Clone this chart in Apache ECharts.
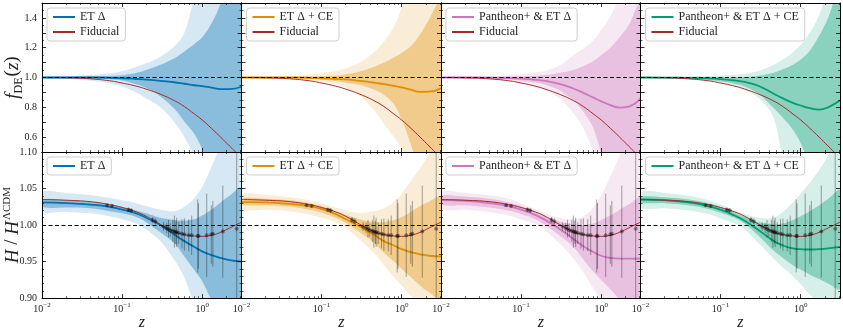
<!DOCTYPE html>
<html>
<head>
<meta charset="utf-8">
<script src="https://cdn.jsdelivr.net/npm/echarts@6/dist/echarts.min.js"></script>
<style>
  html, body { margin: 0; padding: 0; background: #fff; }
  #main { width: 843px; height: 332px; }
</style>
</head>
<body>
<div id="main"></div>
<script>
// redshift grid shared by every curve
const zGrid = [0.01, 0.02, 0.04, 0.07, 0.1, 0.15, 0.2, 0.3, 0.45, 0.6, 0.8, 1.0, 1.3, 1.7, 2.2, 3.1];

const panelNames = ['ET \u0394', 'ET \u0394 + CE', 'Pantheon+ & ET \u0394', 'Pantheon+ & ET \u0394 + CE'];
const panelColors = ['#0173b2', '#de8f05', '#cc78bc', '#029e73'];

// fiducial model
const fidFde = [1.0, 0.998, 0.991, 0.978, 0.963, 0.942, 0.922, 0.888, 0.845, 0.805, 0.755, 0.715, 0.66, 0.6, 0.54, 0.46];
const fidH = [1.035, 1.034, 1.032, 1.028, 1.024, 1.018, 1.012, 1.001, 0.991, 0.987, 0.985, 0.9845, 0.986, 0.99, 0.996, 1.004];

// f_DE(z): mean, 1 sigma (lo1/hi1), 2 sigma (lo2/hi2), one row per panel
const fdeMean = [
  [1, 1, 1, 0.998, 0.995, 0.99, 0.986, 0.978, 0.968, 0.958, 0.948, 0.942, 0.932, 0.922, 0.922, 0.938],
  [1, 1, 1, 0.998, 0.995, 0.99, 0.987, 0.978, 0.966, 0.955, 0.944, 0.933, 0.918, 0.904, 0.905, 0.927],
  [1, 1, 0.999, 0.996, 0.992, 0.985, 0.977, 0.958, 0.926, 0.897, 0.865, 0.84, 0.815, 0.798, 0.805, 0.86],
  [1, 0.999, 0.998, 0.994, 0.989, 0.98, 0.97, 0.943, 0.894, 0.86, 0.83, 0.812, 0.795, 0.785, 0.8, 0.845]
];
const fdeHi1 = [
  [1.003, 1.004, 1.006, 1.01, 1.015, 1.03, 1.05, 1.085, 1.13, 1.175, 1.225, 1.27, 1.36, 1.5, 1.75, 2.2],
  [1.002, 1.003, 1.004, 1.006, 1.009, 1.013, 1.02, 1.04, 1.07, 1.1, 1.135, 1.165, 1.21, 1.29, 1.39, 1.52],
  [1.002, 1.003, 1.004, 1.006, 1.008, 1.012, 1.016, 1.03, 1.05, 1.075, 1.11, 1.15, 1.2, 1.27, 1.35, 1.5],
  [1.001, 1.001, 1.002, 1.002, 1.002, 1.002, 1.003, 1.012, 1.03, 1.055, 1.085, 1.12, 1.18, 1.28, 1.4, 1.6]
];
const fdeLo1 = [
  [0.997, 0.996, 0.994, 0.988, 0.98, 0.955, 0.93, 0.875, 0.79, 0.705, 0.62, 0.52, 0.38, 0.2, 0.0, -0.3],
  [0.998, 0.997, 0.995, 0.99, 0.985, 0.975, 0.965, 0.95, 0.92, 0.885, 0.82, 0.72, 0.55, 0.35, 0.1, -0.3],
  [0.998, 0.996, 0.993, 0.986, 0.978, 0.966, 0.952, 0.915, 0.847, 0.77, 0.66, 0.49, 0.3, 0.05, -0.2, -0.6],
  [0.998, 0.996, 0.992, 0.983, 0.974, 0.958, 0.94, 0.89, 0.8, 0.73, 0.65, 0.56, 0.4, 0.2, 0, -0.3]
];
const fdeHi2 = [
  [1.005, 1.008, 1.015, 1.028, 1.042, 1.07, 1.095, 1.14, 1.21, 1.3, 1.55, 1.8, 2.2, 2.7, 3.2, 4],
  [1.004, 1.006, 1.01, 1.018, 1.028, 1.043, 1.06, 1.1, 1.17, 1.24, 1.34, 1.47, 1.7, 2.0, 2.4, 3],
  [1.003, 1.005, 1.009, 1.016, 1.023, 1.033, 1.045, 1.08, 1.15, 1.195, 1.25, 1.32, 1.41, 1.55, 1.8, 2.3],
  [1.002, 1.004, 1.007, 1.011, 1.014, 1.019, 1.026, 1.045, 1.082, 1.12, 1.17, 1.22, 1.3, 1.42, 1.6, 1.9]
];
const fdeLo2 = [
  [0.995, 0.99, 0.978, 0.962, 0.94, 0.9, 0.86, 0.8, 0.7, 0.6, 0.46, 0.3, 0.1, -0.2, -0.5, -1],
  [0.996, 0.994, 0.99, 0.982, 0.972, 0.955, 0.935, 0.88, 0.78, 0.69, 0.6, 0.52, 0.35, 0.1, -0.2, -0.7],
  [0.996, 0.993, 0.987, 0.975, 0.962, 0.94, 0.915, 0.86, 0.76, 0.66, 0.5, 0.35, 0.1, -0.2, -0.5, -1],
  [0.996, 0.993, 0.988, 0.976, 0.964, 0.944, 0.92, 0.86, 0.74, 0.46, 0.25, 0.05, -0.2, -0.5, -0.8, -1.2]
];

// H / H_LCDM: same layout
const hMean = [
  [1.031, 1.030, 1.028, 1.025, 1.021, 1.016, 1.010, 1.0, 0.987, 0.978, 0.97, 0.964, 0.959, 0.955, 0.952, 0.95],
  [1.0315, 1.031, 1.029, 1.026, 1.022, 1.015, 1.008, 0.998, 0.987, 0.978, 0.972, 0.967, 0.963, 0.96, 0.958, 0.957],
  [1.034, 1.033, 1.03, 1.026, 1.021, 1.014, 1.007, 0.995, 0.981, 0.971, 0.963, 0.958, 0.955, 0.954, 0.954, 0.954],
  [1.035, 1.034, 1.031, 1.026, 1.021, 1.013, 1.006, 0.993, 0.979, 0.972, 0.968, 0.967, 0.9665, 0.967, 0.968, 0.97]
];
const hHi1 = [
  [1.035, 1.034, 1.032, 1.028, 1.025, 1.02, 1.016, 1.01, 1.007, 1.006, 1.008, 1.013, 1.021, 1.031, 1.04, 1.05],
  [1.037, 1.036, 1.034, 1.03, 1.026, 1.019, 1.014, 1.008, 1.004, 1.004, 1.007, 1.011, 1.018, 1.026, 1.032, 1.038],
  [1.04, 1.039, 1.036, 1.031, 1.026, 1.018, 1.012, 1.005, 1.001, 1.0, 1.002, 1.007, 1.013, 1.021, 1.028, 1.037],
  [1.039, 1.038, 1.035, 1.03, 1.025, 1.017, 1.011, 1.004, 1.001, 1.002, 1.007, 1.012, 1.019, 1.027, 1.036, 1.047]
];
const hLo1 = [
  [1.025, 1.024, 1.023, 1.019, 1.016, 1.011, 1.004, 0.99, 0.975, 0.957, 0.938, 0.923, 0.898, 0.875, 0.85, 0.82],
  [1.028, 1.027, 1.025, 1.021, 1.017, 1.01, 1.003, 0.99, 0.976, 0.962, 0.95, 0.94, 0.929, 0.917, 0.908, 0.898],
  [1.028, 1.027, 1.024, 1.02, 1.015, 1.008, 1.0, 0.986, 0.97, 0.953, 0.936, 0.925, 0.912, 0.898, 0.885, 0.87],
  [1.031, 1.03, 1.027, 1.022, 1.017, 1.01, 1.002, 0.985, 0.966, 0.955, 0.945, 0.939, 0.932, 0.926, 0.92, 0.913]
];
const hHi2 = [
  [1.045, 1.044, 1.041, 1.037, 1.034, 1.03, 1.026, 1.021, 1.019, 1.025, 1.037, 1.052, 1.079, 1.11, 1.14, 1.18],
  [1.042, 1.041, 1.038, 1.034, 1.03, 1.024, 1.02, 1.017, 1.019, 1.023, 1.032, 1.043, 1.06, 1.078, 1.097, 1.12],
  [1.045, 1.044, 1.041, 1.036, 1.03, 1.022, 1.016, 1.01, 1.008, 1.012, 1.024, 1.04, 1.066, 1.095, 1.125, 1.16],
  [1.045, 1.044, 1.04, 1.034, 1.028, 1.02, 1.015, 1.01, 1.01, 1.018, 1.031, 1.043, 1.058, 1.075, 1.095, 1.12]
];
const hLo2 = [
  [1.019, 1.018, 1.016, 1.012, 1.008, 1.002, 0.994, 0.978, 0.952, 0.928, 0.89, 0.86, 0.82, 0.78, 0.74, 0.7],
  [1.022, 1.021, 1.019, 1.014, 1.01, 1.004, 0.996, 0.98, 0.962, 0.945, 0.929, 0.917, 0.903, 0.89, 0.877, 0.862],
  [1.0225, 1.021, 1.018, 1.013, 1.008, 1.001, 0.993, 0.975, 0.954, 0.935, 0.913, 0.897, 0.878, 0.86, 0.84, 0.82],
  [1.024, 1.023, 1.02, 1.015, 1.009, 1.002, 0.994, 0.975, 0.955, 0.942, 0.93, 0.919, 0.905, 0.893, 0.882, 0.87]
];

// measurements shown in the lower row
const dataZ = [0.065, 0.075, 0.12, 0.13, 0.24, 0.26, 0.33, 0.36, 0.38, 0.40, 0.43, 0.45, 0.47, 0.48, 0.51, 0.56, 0.60, 0.68, 0.74, 0.88, 0.90, 1.14, 1.30, 1.36, 1.81, 2.7];
const dataH = [1.027, 1.026, 1.021, 1.020, 1.007, 1.005, 0.998, 0.996, 0.995, 0.993, 0.992, 0.991, 0.990, 0.990, 0.989, 0.988, 0.987, 0.986, 0.986, 0.985, 0.985, 0.986, 0.987, 0.988, 0.991, 0.995];
const dataErr = [0.002, 0.002, 0.003, 0.003, 0.004, 0.004, 0.006, 0.007, 0.012, 0.009, 0.015, 0.022, 0.016, 0.02, 0.015, 0.02, 0.022, 0.022, 0.027, 0.05, 0.045, 0.057, 0.04, 0.045, 0.063, 0.2];

const minorX = [0.02, 0.03, 0.04, 0.05, 0.06, 0.07, 0.08, 0.09, 0.2, 0.3, 0.4, 0.5, 0.6, 0.7, 0.8, 0.9, 2, 3];

const SERIF = 'Liberation Serif';
const FID_COLOR = '#a52a2a';

function rgba(hex, a) {
  const n = parseInt(hex.slice(1), 16);
  return 'rgba(' + (n >> 16) + ',' + ((n >> 8) & 255) + ',' + (n & 255) + ',' + a + ')';
}

function pairs(ys) {
  return zGrid.map((z, i) => [z, ys[i]]);
}

function logLabel(v) {
  const e = Math.log10(v);
  const r = Math.round(e);
  if (Math.abs(e - r) > 0.01) return '';
  return '{b|10}{s|' + (r < 0 ? '\u2212' + (-r) : r) + '}';
}

// filled region between lo and hi, drawn once as a polygon in data coords
function bandSeries(xi, yi, lo, hi, fill, z) {
  return {
    type: 'custom', xAxisIndex: xi, yAxisIndex: yi, clip: true, silent: true, z: z,
    data: zGrid.map((zz, i) => [zz, lo[i], hi[i]]),
    encode: { x: 0, y: 1 },
    renderItem: function (params, api) {
      if (params.dataIndex !== 0) return null;
      const pts = [];
      for (let i = 0; i < zGrid.length; i++) pts.push(api.coord([zGrid[i], hi[i]]));
      for (let i = zGrid.length - 1; i >= 0; i--) pts.push(api.coord([zGrid[i], lo[i]]));
      return {
        type: 'polygon',
        shape: { points: pts, smooth: 0.35 },
        style: { fill: fill, stroke: null }
      };
    }
  };
}

const grids = [], xAxes = [], yAxes = [], series = [], legends = [];

function addPanel(row, col) {
  const left = 42 + col * 199.5;
  const top = row === 0 ? 3 : 152;
  const height = row === 0 ? 149 : 148.5;
  const gi = grids.length;
  grids.push({ left: left, top: top, width: 199.5, height: height });

  const tick = { show: true, inside: true, length: 4, lineStyle: { color: '#000', width: 0.8 } };
  const minor = { show: true, inside: true, length: 2, lineStyle: { color: '#000', width: 0.6 }, customValues: minorX };
  const xBase = { type: 'log', logBase: 10, min: 0.01, max: 3.1, gridIndex: gi, splitLine: { show: false }, z: 10 };

  const xi = xAxes.length;
  xAxes.push(Object.assign({}, xBase, {
    position: 'bottom',
    axisLine: { show: true, lineStyle: { color: '#000', width: 1 } },
    axisTick: tick,
    axisLabel: {
      show: row === 1, margin: 4, formatter: logLabel,
      rich: {
        b: { fontFamily: SERIF, fontSize: 10, color: '#222', verticalAlign: 'bottom' },
        s: { fontFamily: SERIF, fontSize: 7, color: '#222', verticalAlign: 'bottom', padding: [0, 0, 5, 0] }
      }
    },
    name: row === 1 ? 'z' : '',
    nameLocation: 'middle', nameGap: 16,
    nameTextStyle: { fontFamily: SERIF, fontStyle: 'italic', fontSize: 16, color: '#222' }
  }));
  xAxes.push(Object.assign({}, xBase, { position: 'bottom', axisLine: { show: false }, axisTick: minor, axisLabel: { show: false } }));
  xAxes.push(Object.assign({}, xBase, { position: 'top', axisLine: { show: true, lineStyle: { color: '#000', width: 1 } }, axisTick: tick, axisLabel: { show: false } }));
  xAxes.push(Object.assign({}, xBase, { position: 'top', axisLine: { show: false }, axisTick: minor, axisLabel: { show: false } }));

  const yBase = row === 0
    ? { type: 'value', min: 0.5, max: 1.5, interval: 0.1, minorTick: { show: true, splitNumber: 2, length: 2, lineStyle: { color: '#000', width: 0.6 } } }
    : { type: 'value', min: 0.9, max: 1.1, interval: 0.05, minorTick: { show: true, splitNumber: 5, length: 2, lineStyle: { color: '#000', width: 0.6 } } };
  const yi = yAxes.length;
  yAxes.push(Object.assign({}, yBase, {
    gridIndex: gi, position: 'left', z: 10,
    splitLine: { show: false },
    axisLine: { show: true, lineStyle: { color: '#000', width: 1 } },
    axisTick: tick,
    axisLabel: {
      show: col === 0, margin: 5, fontFamily: SERIF, fontSize: 10, color: '#222',
      formatter: row === 0
        ? function (v) { const k = Math.round(v * 10); return (k % 2 === 0 && k > 5 && k < 15) ? v.toFixed(1) : ''; }
        : function (v) { return v.toFixed(2); }
    },
    name: col !== 0 ? '' : (row === 0 ? '{i|f}{sub|DE}{n|(}{i|z}{n|)}' : '{i|H}{n| / }{i|H}{sup|\u039bCDM}'),
    nameLocation: 'middle', nameRotate: 90, nameGap: 17, nameMoveOverlap: false,
    nameTextStyle: {
      rich: {
        i: { fontFamily: SERIF, fontStyle: 'italic', fontSize: 19, color: '#222', verticalAlign: 'bottom', padding: [0, 0, 3, 0] },
        n: { fontFamily: SERIF, fontSize: 19, color: '#222', verticalAlign: 'bottom', padding: [0, 0, 3, 0] },
        sub: { fontFamily: SERIF, fontSize: 12, color: '#222', verticalAlign: 'bottom', padding: [0, 1, 0, 0] },
        sup: { fontFamily: SERIF, fontSize: 11, color: '#222', verticalAlign: 'bottom', padding: [0, 0, 12, 1] }
      }
    }
  }));
  yAxes.push(Object.assign({}, yBase, {
    gridIndex: gi, position: 'right', z: 10,
    splitLine: { show: false },
    axisLine: { show: true, lineStyle: { color: '#000', width: 1 } },
    axisTick: tick, axisLabel: { show: false }
  }));

  const color = panelColors[col];
  const name = panelNames[col];
  const lo2 = row === 0 ? fdeLo2[col] : hLo2[col];
  const hi2 = row === 0 ? fdeHi2[col] : hHi2[col];
  const lo1 = row === 0 ? fdeLo1[col] : hLo1[col];
  const hi1 = row === 0 ? fdeHi1[col] : hHi1[col];
  const mean = row === 0 ? fdeMean[col] : hMean[col];
  const fid = row === 0 ? fidFde : fidH;

  series.push(bandSeries(xi, yi, lo2, hi2, rgba(color, 0.16), 1));
  series.push(bandSeries(xi, yi, lo1, hi1, rgba(color, 0.36), 2));

  series.push({
    name: name, type: 'line', xAxisIndex: xi, yAxisIndex: yi,
    data: pairs(mean), smooth: true, symbol: 'none', z: 3,
    lineStyle: { color: color, width: 1.8 }, itemStyle: { color: color },
    markLine: {
      silent: true, symbol: 'none', label: { show: false },
      lineStyle: { color: '#000', type: [4, 2.5], width: 1 },
      data: [{ yAxis: 1 }]
    }
  });
  series.push({
    name: 'Fiducial', type: 'line', xAxisIndex: xi, yAxisIndex: yi,
    data: pairs(fid), smooth: true, symbol: 'none', z: 4,
    lineStyle: { color: FID_COLOR, width: 1 }, itemStyle: { color: FID_COLOR }
  });

  if (row === 1) {
    const pts = dataZ.map((z, i) => [z, dataH[i], dataErr[i]]);
    series.push({
      type: 'custom', xAxisIndex: xi, yAxisIndex: yi, clip: true, z: 5, silent: true,
      data: pts, encode: { x: 0, y: 1 },
      renderItem: function (params, api) {
        const x = api.value(0), y = api.value(1), e = api.value(2);
        const p1 = api.coord([x, y - e]);
        const p2 = api.coord([x, y + e]);
        return {
          type: 'line',
          shape: { x1: p1[0], y1: p1[1], x2: p2[0], y2: p2[1] },
          style: { stroke: 'rgba(0,0,0,0.35)', lineWidth: 1 }
        };
      }
    });
    series.push({
      type: 'scatter', xAxisIndex: xi, yAxisIndex: yi, z: 6, silent: true,
      data: pts.map(p => [p[0], p[1]]), symbolSize: 4,
      itemStyle: { color: 'rgba(0,0,0,0.5)' }
    });
  }

  legends.push({
    data: row === 0 ? [name, 'Fiducial'] : [name],
    left: left + 5, top: top + 5,
    orient: 'vertical', selectedMode: false,
    backgroundColor: 'rgba(255,255,255,0.85)',
    borderColor: '#cfcfcf', borderWidth: 1, borderRadius: 3,
    padding: [3, 6, 3, 5], itemGap: 3, itemWidth: 22, itemHeight: 12,
    itemStyle: { opacity: 0 },
    textStyle: { fontFamily: SERIF, fontSize: 12, color: '#222' },
    z: 20
  });
}

for (let r = 0; r < 2; r++) {
  for (let c = 0; c < 4; c++) addPanel(r, c);
}

const chart = echarts.init(document.getElementById('main'), null, { renderer: 'canvas' });
chart.setOption({
  animation: false,
  backgroundColor: '#fff',
  grid: grids,
  xAxis: xAxes,
  yAxis: yAxes,
  legend: legends,
  series: series
});
</script>
</body>
</html>
